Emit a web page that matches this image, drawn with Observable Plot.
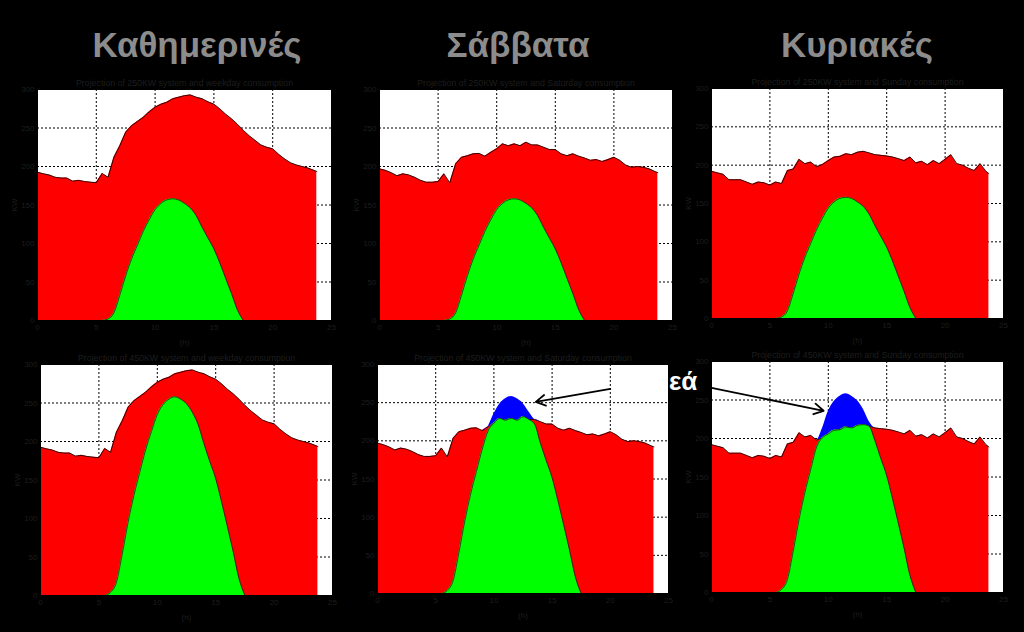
<!DOCTYPE html>
<html><head><meta charset="utf-8">
<script src="https://cdn.jsdelivr.net/npm/d3@7"></script>
<script src="https://cdn.jsdelivr.net/npm/@observablehq/plot@0.6"></script>
<style>
body{margin:0;background:#000;}
#root{position:relative;width:1024px;height:632px;background:#000;overflow:hidden;font-family:"Liberation Sans",Arial,sans-serif;}
.coltitle{position:absolute;top:25px;font-size:35px;font-weight:bold;color:#8c8c8c;transform:translateX(-50%);white-space:nowrap;}
.note{position:absolute;font-size:26px;font-weight:bold;color:#fff;white-space:nowrap;}
svg{position:absolute;overflow:visible;}
</style>
</head><body><div id="root"></div>
<script>
// ---- data ----
const hours = [0,0.5,1,1.5,2,2.5,3,3.5,4,4.5,5,5.5,6,6.5,7,7.5,8,8.5,9,9.5,10,10.5,11,11.5,12,12.5,13,13.5,14,14.5,15,15.5,16,16.5,17,17.5,18,18.5,19,19.5,20,20.5,21,21.5,22,22.5,23,23.5,23.75];
const weekday = [192.6,190.5,189,186,185,185,181,182,180.5,179.7,179,191,186,212,227,244.6,253,258.5,264,271,277,281,283.5,288,290,292,293,290,288,284,281,275,268,262,255,247,240,234,228,225,223,216,210,205,202,200,198,195,193.5];
const saturday = [197,195,192,188,190.5,189,186,182,179.6,179.6,180.5,190.5,179,203.5,212,214,216.5,217,213.4,218.6,223,229.4,227,229.4,227,231.6,228,228,225,222,222,216.5,214,216.5,213.4,211,208,209,206.5,209,212,208,202,199,200,199,197,193.5,192];
const sunday = [192,190,188,181,181,181,178,175,178,177,174,178,176,193,195,207.6,202,204,198,201,206,210.6,211.5,215,213.7,217,218,216,213.7,212.8,212,210.6,208.5,206,210.6,203,205,200.7,206,202,207.6,213.7,202,200,196,193,202,192,189];
const pv250 = [0,0,0,0,0,0,0,0,0,0,0,0,2,10,33,58,80,98,116,131,144,152,156.7,158,156.5,152,146,136,121,107,93,75,55,35,14,0,0,0,0,0,0,0,0,0,0,0,0,0,0];
const pv450 = [0,0,0,0,0,0,0,0,0,0,0,0,4,17,54,95,130,160,189,213,235,248,255,258,255,249,238,222,197,174,152,122,90,57,22,0,0,0,0,0,0,0,0,0,0,0,0,0,0];
const columnTitles = ["Καθημερινές","Σάββατα","Κυριακές"];
const dayNames = ["weekday","Saturday","Sunday"];
const systemNames = ["250KW","450KW"];
const xTicks = [0,5,10,15,20,25];
const yTicks = [0,50,100,150,200,250,300];
const xGrid = [5,10,15,20];
const yGrid = [50,100,150,200,250];
// annotation arrows in data coordinates (hours, KW) for bottom Saturday and Sunday panels
const arrowsSat = [{x1:20.0,y1:268,x2:13.6,y2:251}];
const arrowsSun = [{x1:-0.1,y1:266,x2:9.6,y2:236}];
const noteText = "εά";

// ---- layout ----
const panels = [
  {row:0,col:0,x0:37,x1:331,y0:89,y1:320},
  {row:0,col:1,x0:379,x1:672,y0:89,y1:320},
  {row:0,col:2,x0:711,x1:1003,y0:88,y1:318},
  {row:1,col:0,x0:40,x1:332,y0:364,y1:595},
  {row:1,col:1,x0:377,x1:668,y0:364,y1:593},
  {row:1,col:2,x0:711,x1:1003,y0:361,y1:592}
];
const consumption = [weekday, saturday, sunday];
const production = [pv250, pv450];
const titleCenters = [197, 518, 857];

const root = document.getElementById("root");
columnTitles.forEach((t,i)=>{
  const d = document.createElement("div");
  d.className="coltitle"; d.textContent=t; d.style.left=titleCenters[i]+"px";
  root.appendChild(d);
});
const note = document.createElement("div");
note.className="note"; note.textContent=noteText;
note.style.left="669px"; note.style.top="366px";
root.appendChild(note);

const mL=32, mR=12, mT=20, mB=32;
const textColor = "#1e1e1e";
panels.forEach(p=>{
  const cons = consumption[p.col], pv = production[p.row];
  const data = hours.map((h,i)=>({h, cons:cons[i], pv:pv[i],
    green: Math.min(cons[i], pv[i]), top: Math.max(cons[i], pv[i])}));
  const arrows = p.row===1 && p.col===1 ? arrowsSat : (p.row===1 && p.col===2 ? arrowsSun : []);
  const title = `Projection of ${systemNames[p.row]} system and ${dayNames[p.col]} consumption`;
  const w = (p.x1-p.x0)+mL+mR, hgt=(p.y1-p.y0)+mT+mB;
  const greenPart = data.filter(d=>d.h>=5.5 && d.h<=17.5);
  const chart = Plot.plot({
    width:w, height:hgt, marginLeft:mL, marginRight:mR, marginTop:mT, marginBottom:mB,
    style:{background:"transparent", fontFamily:"Liberation Sans, Arial, sans-serif", overflow:"visible"},
    x:{domain:[0,25]}, y:{domain:[0,300]},
    marks:[
      Plot.frame({fill:"white", stroke:null}),
      Plot.ruleX(xGrid,{stroke:"#000", strokeDasharray:"2,2", strokeWidth:1}),
      Plot.ruleY(yGrid,{stroke:"#000", strokeDasharray:"2,2", strokeWidth:1}),
      Plot.areaY(data,{x:"h", y:"cons", fill:"#ff0000"}),
      Plot.lineY(data,{x:"h", y:"cons", stroke:"#000", strokeWidth:0.8}),
      Plot.areaY(greenPart,{x:"h", y1:"cons", y2:"top", fill:"#0000ff", curve:"monotone-x"}),
      Plot.areaY(greenPart,{x:"h", y:"green", fill:"#00ff00", curve:"monotone-x"}),
      Plot.lineY(greenPart,{x:"h", y:"green", stroke:"#222", strokeWidth:0.8, curve:"monotone-x"}),
      Plot.frame({stroke:"#000"}),
      Plot.axisX(xTicks,{tickSize:0, tickPadding:4, fontSize:8, color:textColor, label:"(h)", labelAnchor:"center", labelArrow:"none", labelOffset:24}),
      Plot.axisY(yTicks,{tickSize:0, tickPadding:3, fontSize:8, color:textColor, label:"KW", labelAnchor:"center", labelArrow:"none", labelOffset:26}),
      Plot.text([title],{frameAnchor:"top", dy:-10, fontSize:8.8, fill:textColor}),
      Plot.arrow(arrows,{x1:"x1",y1:"y1",x2:"x2",y2:"y2", stroke:"#000", strokeWidth:1.8, headLength:9})
    ]
  });
  chart.style.left=(p.x0-mL)+"px";
  chart.style.top=(p.y0-mT)+"px";
  root.appendChild(chart);
});
</script>
</body></html>
